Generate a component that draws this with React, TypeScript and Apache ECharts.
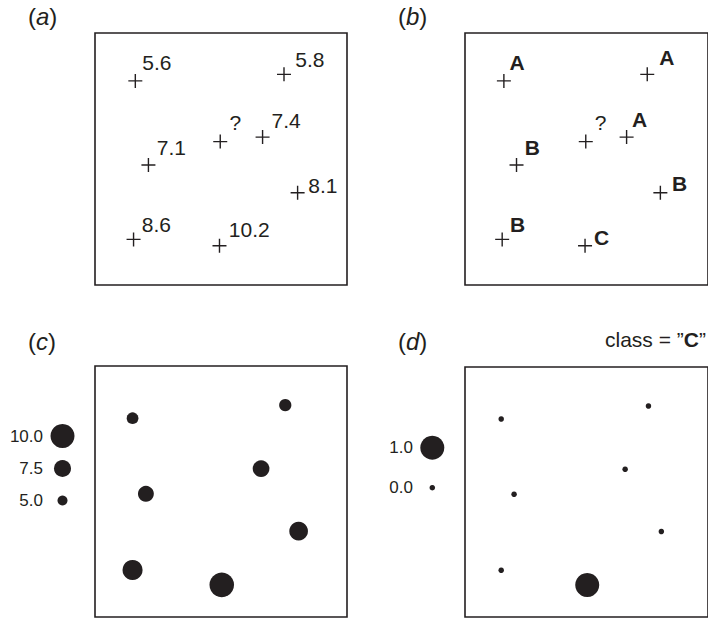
import React, { useEffect, useRef } from "react";
import * as echarts from "echarts";

// ---- data ----
const sampleValues = [5.6, 5.8, 7.4, 7.1, 8.1, 8.6, 10.2];
const sampleClasses = ["A", "A", "A", "B", "B", "B", "C"];
// locations as drawn in the upper panels (a), (b)
const topX = [1.6, 7.5, 6.65, 2.12, 8.04, 1.53, 4.94];
const topY = [8.1, 8.36, 5.87, 4.76, 3.66, 1.81, 1.56];
// locations as drawn in the lower panels (c), (d)
const bottomX = [1.49, 7.55, 6.59, 2.02, 8.08, 1.49, 5.03];
const bottomY = [7.92, 8.44, 5.91, 4.91, 3.42, 1.87, 1.28];
// query point
const queryX = [4.97];
const queryY = [5.69];
const queryLabel = ["?"];
const targetClass = "C";
const sizeLegendValues = [10.0, 7.5, 5.0];
const memberLegendValues = [1.0, 0.0];

// ---- layout (label offsets from cross centre, px) ----
const offsetsA = [[7, -18.5], [11.3, -15.2], [9, -16.2], [8.3, -17.5], [10.7, -7.7], [8.3, -14.8], [9.3, -16]];
const offsetsB = [[5.7, -18.5], [12, -16.8], [5.3, -17.8], [8.3, -18], [11.7, -9.3], [7.7, -15.3], [9, -8.3]];
const offsetQA = [9.3, -19.2];
const offsetQB = [9, -19.5];

const INK = "#231f20";
const FONT = "'Liberation Sans', Arial, Helvetica, sans-serif";
const CROSS = "path://M6.3,0H7.7V6.3H14V7.7H7.7V14H6.3V7.7H0V6.3H6.3Z";
const CROSS_SIZE = 14;

const valueSize = (v: number) => 10 + (v - 5) * 2.8;
const memberSize = (m: number) => 5.5 + m * 18.5;

function crossItem(x: number, y: number, text: string, off: number[], bold: boolean) {
  return {
    value: [x, y],
    label: {
      show: true,
      formatter: text,
      position: [CROSS_SIZE / 2 + off[0], CROSS_SIZE / 2 + off[1]],
      align: "left",
      verticalAlign: "middle",
      color: INK,
      opacity: 1,
      fontFamily: FONT,
      fontSize: 21,
      fontWeight: bold ? "bold" : "normal",
    },
  };
}

export default function App() {
  const ref = useRef<HTMLDivElement>(null);
  useEffect(() => {
    if (!ref.current) return;
    const chart = echarts.init(ref.current, null, { renderer: "svg" });

    const grids = [
      { left: 95, top: 33, width: 252, height: 252 },
      { left: 465, top: 33, width: 252, height: 252 },
      { left: 95, top: 366, width: 252, height: 251 },
      { left: 465, top: 367, width: 252, height: 250 },
    ].map((g) => ({ ...g, show: true, borderColor: INK, borderWidth: 1.6, backgroundColor: "transparent" }));

    const axis = (i: number) => ({ gridIndex: i, type: "value", min: 0, max: 10, show: false });

    const dataA = sampleValues.map((v, i) => crossItem(topX[i], topY[i], String(v), offsetsA[i], false));
    dataA.push(crossItem(queryX[0], queryY[0], queryLabel[0], offsetQA, false));
    const dataB = sampleClasses.map((c, i) => crossItem(topX[i], topY[i], c, offsetsB[i], true));
    dataB.push(crossItem(queryX[0], queryY[0], queryLabel[0], offsetQB, false));

    const dataC = sampleValues.map((v, i) => [bottomX[i], bottomY[i], v]);
    const dataD = sampleClasses.map((c, i) => [bottomX[i], bottomY[i], c === targetClass ? 1 : 0]);

    const crossSeries = (i: number, data: any[]) => ({
      type: "scatter",
      xAxisIndex: i,
      yAxisIndex: i,
      symbol: CROSS,
      symbolSize: CROSS_SIZE,
      itemStyle: { color: INK, opacity: 1 },
      data,
      silent: true,
    });

    const graphics: any[] = [];
    const panelLabel = (letter: string, x: number, y: number) => ({
      type: "text",
      x,
      y,
      style: {
        text: "({i|" + letter + "})",
        fill: INK,
        fontFamily: FONT,
        fontSize: 24,
        verticalAlign: "middle",
        align: "left",
        rich: { i: { fontStyle: "italic", fontFamily: FONT, fontSize: 24, fill: INK } },
      },
    });
    graphics.push(panelLabel("a", 28, 16.5));
    graphics.push(panelLabel("b", 398, 16.5));
    graphics.push(panelLabel("c", 28, 341.5));
    graphics.push(panelLabel("d", 398, 341.5));
    graphics.push({
      type: "text",
      x: 605,
      y: 339,
      style: {
        text: "class = \u201d{b|" + targetClass + "}\u201d",
        fill: INK,
        fontFamily: FONT,
        fontSize: 21,
        verticalAlign: "middle",
        align: "left",
        rich: { b: { fontWeight: "bold", fontFamily: FONT, fontSize: 21, fill: INK } },
      },
    });
    const legendCY = [436, 468.5, 500.5];
    sizeLegendValues.forEach((v, i) => {
      graphics.push({ type: "circle", shape: { cx: 62.5, cy: legendCY[i], r: valueSize(v) / 2 }, style: { fill: INK } });
      graphics.push({
        type: "text", x: 43, y: legendCY[i],
        style: { text: v.toFixed(1), fill: INK, fontFamily: FONT, fontSize: 17, align: "right", verticalAlign: "middle" },
      });
    });
    const legendDY = [447.7, 487.7];
    memberLegendValues.forEach((m, i) => {
      graphics.push({ type: "circle", shape: { cx: 432.3, cy: legendDY[i], r: memberSize(m) / 2 }, style: { fill: INK } });
      graphics.push({
        type: "text", x: 413, y: legendDY[i],
        style: { text: m.toFixed(1), fill: INK, fontFamily: FONT, fontSize: 17, align: "right", verticalAlign: "middle" },
      });
    });

    chart.setOption({
      animation: false,
      grid: grids,
      xAxis: [0, 1, 2, 3].map(axis),
      yAxis: [0, 1, 2, 3].map(axis),
      series: [
        crossSeries(0, dataA),
        crossSeries(1, dataB),
        {
          type: "scatter",
          xAxisIndex: 2,
          yAxisIndex: 2,
          symbol: "circle",
          symbolSize: (val: number[]) => valueSize(val[2]),
          itemStyle: { color: INK, opacity: 1 },
          data: dataC,
          silent: true,
        },
        {
          type: "scatter",
          xAxisIndex: 3,
          yAxisIndex: 3,
          symbol: "circle",
          symbolSize: (val: number[]) => memberSize(val[2]),
          itemStyle: { color: INK, opacity: 1 },
          data: dataD,
          silent: true,
        },
      ],
      graphic: graphics,
    });
    return () => chart.dispose();
  }, []);
  return (
    <div
      ref={ref}
      style={{ position: "absolute", left: 0, top: 0, width: 708, height: 619, background: "#fff" }}
    />
  );
}
